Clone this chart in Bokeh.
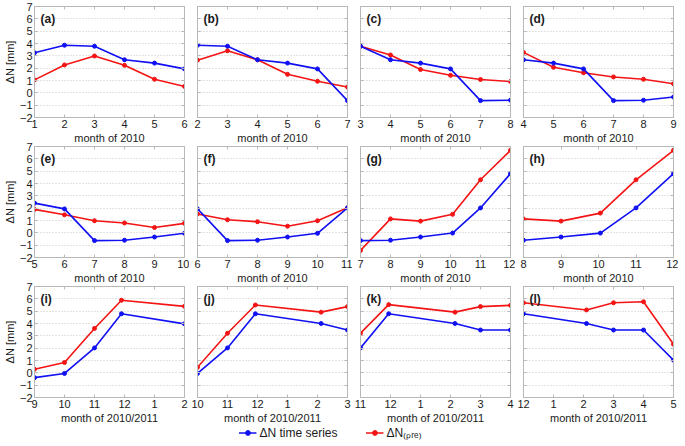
from bokeh.plotting import figure
from bokeh.models import Range1d, LinearAxis, FixedTicker, Label, Legend, LegendItem
from bokeh.layouts import row, column
from bokeh.embed import file_html
from bokeh.resources import INLINE

# ---------------- data ----------------
panel_letters = ["a", "b", "c", "d", "e", "f", "g", "h", "i", "j", "k", "l"]

# month positions (13 = Jan 2011, 14 = Feb 2011, ...)
a_x = [1, 2, 3, 4, 5, 6]
a_ts = [3.25, 3.86, 3.78, 2.68, 2.41, 1.94]
a_pre = [1.05, 2.26, 2.99, 2.23, 1.10, 0.52]

b_x = [2, 3, 4, 5, 6, 7]
b_ts = [3.86, 3.78, 2.68, 2.41, 1.94, -0.63]
b_pre = [2.65, 3.41, 2.68, 1.50, 0.94, 0.47]

c_x = [3, 4, 5, 6, 7, 8]
c_ts = [3.78, 2.68, 2.41, 1.94, -0.63, -0.60]
c_pre = [3.78, 3.07, 1.89, 1.42, 1.08, 0.92]

d_x = [4, 5, 6, 7, 8, 9]
d_ts = [2.68, 2.41, 1.94, -0.63, -0.60, -0.34]
d_pre = [3.28, 2.07, 1.63, 1.29, 1.10, 0.73]

e_x = [5, 6, 7, 8, 9, 10]
e_ts = [2.41, 1.94, -0.63, -0.60, -0.34, -0.04]
e_pre = [1.90, 1.46, 0.98, 0.80, 0.43, 0.77]

f_x = [6, 7, 8, 9, 10, 11]
f_ts = [1.94, -0.63, -0.60, -0.34, -0.04, 2.02]
f_pre = [1.53, 1.06, 0.90, 0.54, 0.98, 2.03]

g_x = [7, 8, 9, 10.07, 11, 12]
g_ts = [-0.63, -0.60, -0.34, -0.02, 2.02, 4.80]
g_pre = [-1.43, 1.13, 0.95, 1.50, 4.30, 6.69]

h_x = [8, 9, 10.05, 11, 12]
h_ts = [-0.60, -0.34, -0.02, 2.02, 4.80]
h_pre = [1.13, 0.95, 1.60, 4.30, 6.69]

i_x = [9, 10, 11, 11.9, 14]
i_ts = [-0.39, -0.05, 2.02, 4.79, 3.97]
i_pre = [0.29, 0.84, 3.60, 5.89, 5.39]

j_x = [10, 11, 11.93, 14.12, 15]
j_ts = [-0.05, 2.02, 4.79, 4.00, 3.47]
j_pre = [0.45, 3.21, 5.50, 4.92, 5.37]

k_x = [11, 11.94, 14.15, 15, 16]
k_ts = [2.02, 4.79, 4.00, 3.47, 3.47]
k_pre = [3.21, 5.53, 4.92, 5.37, 5.47]

l_x = [12, 14.1, 15, 16, 17]
l_ts = [4.79, 4.00, 3.47, 3.47, 1.03]
l_pre = [5.68, 5.10, 5.68, 5.76, 2.32]

# x-axis limits per panel
x_limits = [(1, 6), (2, 7), (3, 8), (4, 9),
            (5, 10), (6, 11), (7, 12), (8, 12),
            (9, 14), (10, 15), (11, 16), (12, 17)]

y_ticks = [-2, -1, 0, 1, 2, 3, 4, 5, 6, 7]
month_labels = {13: "1", 14: "2", 15: "3", 16: "4", 17: "5"}
row_xlabels = ["month of 2010", "month of 2010", "month of 2010/2011"]
y_label = "\u0394N [mm]"
legend_labels = ["\u0394N time series", "\u0394N\u208d\u209a\u1d63\u2091\u208e"]

xs = [a_x, b_x, c_x, d_x, e_x, f_x, g_x, h_x, i_x, j_x, k_x, l_x]
tss = [a_ts, b_ts, c_ts, d_ts, e_ts, f_ts, g_ts, h_ts, i_ts, j_ts, k_ts, l_ts]
pres = [a_pre, b_pre, c_pre, d_pre, e_pre, f_pre, g_pre, h_pre, i_pre, j_pre, k_pre, l_pre]

# ---------------- style ----------------
FONT = "Liberation Sans"
BLUE = "#1010f4"
RED = "#f41414"
GRAY = "#b8b8b8"
TXT = "#1a1a1a"
FW, FH = 150, 111


def style_axis(ax, ticks, show_labels, overrides=None):
    ax.ticker = FixedTicker(ticks=ticks)
    ax.axis_line_color = GRAY
    ax.major_tick_line_color = GRAY
    ax.major_tick_in = 3
    ax.major_tick_out = 0
    ax.minor_tick_line_color = None
    ax.major_label_text_font = FONT
    ax.major_label_text_font_size = "11px"
    ax.major_label_text_color = TXT if show_labels else None
    ax.major_label_standoff = 2 if show_labels else 0
    ax.axis_label_text_font = FONT
    ax.axis_label_text_font_size = "11px"
    ax.axis_label_text_font_style = "normal"
    ax.axis_label_text_color = TXT
    ax.axis_label_standoff = 1
    if overrides:
        ax.major_label_overrides = overrides


def make_panel(idx):
    r, c = divmod(idx, 4)
    xmin, xmax = x_limits[idx]
    p = figure(frame_width=FW, frame_height=FH,
               x_range=Range1d(xmin, xmax), y_range=Range1d(-2, 7),
               output_backend="svg", toolbar_location=None,
               min_border_top=6, min_border_bottom=0,
               min_border_left=(0 if c == 0 else 8), min_border_right=5,
               border_fill_color=None, background_fill_color="white",
               outline_line_color=GRAY)
    xt = list(range(xmin, xmax + 1))
    ov = {t: month_labels[t] for t in xt if t in month_labels}
    style_axis(p.xaxis[0], xt, True, ov)
    p.xaxis[0].axis_label = row_xlabels[r]
    style_axis(p.yaxis[0], y_ticks, c == 0)
    if c == 0:
        p.yaxis[0].axis_label = y_label
    top = LinearAxis()
    style_axis(top, xt, False)
    p.add_layout(top, "above")
    right = LinearAxis()
    style_axis(right, y_ticks, False)
    p.add_layout(right, "right")

    p.xgrid.visible = False
    p.ygrid.ticker = FixedTicker(ticks=y_ticks)
    p.ygrid.grid_line_color = "#c8c8c8"
    p.ygrid.grid_line_dash = "1 2"

    p.line(xs[idx], pres[idx], color=RED, line_width=1.6)
    p.scatter(xs[idx], pres[idx], color=RED, size=4)
    p.line(xs[idx], tss[idx], color=BLUE, line_width=1.6)
    p.scatter(xs[idx], tss[idx], color=BLUE, size=4)

    p.add_layout(Label(x=6, y=FH - 12, x_units="screen", y_units="screen",
                       text="(%s)" % panel_letters[idx], text_font=FONT,
                       text_font_size="12px", text_font_style="bold",
                       text_color=TXT, text_baseline="middle"))
    return p


panels = [make_panel(i) for i in range(12)]
rows = []
for r in range(3):
    rw = row(*panels[4 * r:4 * r + 4])
    if r > 0:
        rw.margin = (-6, 0, 0, 0)
    rows.append(rw)

# legend strip
nan = float("nan")
lp = figure(width=660, height=16, output_backend="svg", toolbar_location=None,
            x_range=Range1d(0, 1), y_range=Range1d(0, 1),
            min_border=0, outline_line_color=None, border_fill_color=None)
lp.axis.visible = False
lp.grid.visible = False
r1 = lp.line([nan, nan], [nan, nan], color=BLUE, line_width=1.6)
s1 = lp.scatter([nan], [nan], color=BLUE, size=4)
r2 = lp.line([nan, nan], [nan, nan], color=RED, line_width=1.6)
s2 = lp.scatter([nan], [nan], color=RED, size=4)
leg = Legend(items=[LegendItem(label=legend_labels[0], renderers=[r1, s1]),
                    LegendItem(label=legend_labels[1], renderers=[r2, s2])],
             orientation="horizontal", location="center",
             glyph_width=18, glyph_height=12, label_standoff=3, spacing=28,
             padding=0, margin=0, border_line_color=None,
             background_fill_alpha=0, label_text_font=FONT,
             label_text_font_size="12px", label_text_color=TXT,
             label_height=12)
lp.add_layout(leg, "center")
leg_row = row(lp)
leg_row.margin = (-2, 0, 0, 0)

layout = column(*rows, leg_row)

open("out.html", "w").write(file_html(layout, INLINE))
